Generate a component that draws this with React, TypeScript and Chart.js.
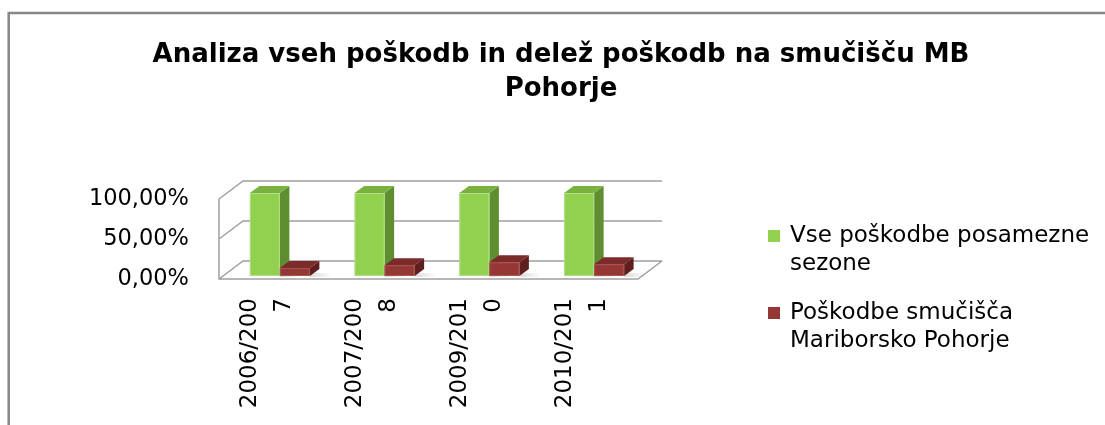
import React, { useEffect, useRef } from 'react';
import { Chart, registerables } from 'chart.js';

Chart.register(...registerables);

const TITLE_LINES = ['Analiza vseh poškodb in delež poškodb na smučišču MB', 'Pohorje'];
const CATEGORIES = ['2006/2007', '2007/2008', '2009/2010', '2010/2011'];
const SERIES_NAMES = ['Vse poškodbe posamezne sezone', 'Poškodbe smučišča Mariborsko Pohorje'];
const ALL_INJURIES = [100, 100, 100, 100];
const MB_POHORJE = [9.6, 13.0, 16.5, 14.2];
const Y_TICK_STEP = 50;

const W = 1105;
const H = 425;
const FONT = "'DejaVu Sans', Verdana, sans-serif";

const FACE_COLORS = [
  { front: '#92D050', top: '#79B23F', side: '#5E8E2F', edge: '#B2E08A', legend: '#92D050' },
  { front: '#953735', top: '#7A2B2A', side: '#5F1F1E', edge: '#A85452', legend: '#953735' },
];

// wall depth (oblique offset)
const DEPTH_X = 24;
const DEPTH_Y = -18;
// bar placement inside the depth
const BAR_OX = 8.5;
const BAR_OY = -3;
const BAR_K = 83 / 80;
const BAR_DX = 9.5;
const BAR_DY = -7;

export default function App() {
  const ref = useRef<HTMLCanvasElement>(null);

  useEffect(() => {
    const plugin = {
      id: 'excel3d',
      beforeDraw(chart: any) {
        const ctx = chart.ctx;
        ctx.save();
        ctx.fillStyle = '#ffffff';
        ctx.fillRect(0, 0, W, H);
        // frame
        ctx.strokeStyle = '#878787';
        ctx.lineWidth = 2.5;
        ctx.beginPath();
        ctx.moveTo(8.7, H + 5);
        ctx.lineTo(8.7, 13);
        ctx.lineTo(W + 5, 13);
        ctx.stroke();
        // title
        ctx.fillStyle = '#000000';
        ctx.font = `bold 26px ${FONT}`;
        ctx.textAlign = 'center';
        ctx.textBaseline = 'alphabetic';
        ctx.fillText(TITLE_LINES[0], 561, 62);
        ctx.fillText(TITLE_LINES[1], 561, 96);
        ctx.restore();
      },
      beforeDatasetsDraw(chart: any) {
        const ctx = chart.ctx;
        const area = chart.chartArea;
        const y = chart.scales.y;
        const L = area.left;
        const R = area.right;
        const y0 = y.getPixelForValue(0);
        const yMax = y.getPixelForValue(y.max);
        ctx.save();
        ctx.strokeStyle = '#A0A0A0';
        ctx.lineWidth = 1.5;
        ctx.beginPath();
        ctx.moveTo(L, yMax);
        ctx.lineTo(L, y0);
        ctx.lineTo(R, y0);
        ctx.lineTo(R + DEPTH_X, y0 + DEPTH_Y);
        for (let v = 0; v <= y.max; v += Y_TICK_STEP) {
          const p = y.getPixelForValue(v);
          ctx.moveTo(L, p);
          ctx.lineTo(L + DEPTH_X, p + DEPTH_Y);
          ctx.lineTo(R + DEPTH_X, p + DEPTH_Y);
        }
        ctx.stroke();

        // soft floor shadows
        chart.data.datasets.forEach((_: any, di: number) => {
          const meta = chart.getDatasetMeta(di);
          meta.data.forEach((el: any) => {
            const left = el.x - el.width / 2 + BAR_OX;
            const b = el.base + BAR_OY;
            const g = ctx.createLinearGradient(left + el.width, 0, left + el.width + 22, 0);
            g.addColorStop(0, 'rgba(150,150,150,0.35)');
            g.addColorStop(1, 'rgba(150,150,150,0)');
            ctx.fillStyle = g;
            ctx.fillRect(left + el.width, b - 3, 22, 4);
          });
        });

        // 3D bars
        chart.data.datasets.forEach((_: any, di: number) => {
          const meta = chart.getDatasetMeta(di);
          const c = FACE_COLORS[di];
          meta.data.forEach((el: any) => {
            const left = el.x - el.width / 2 + BAR_OX;
            const right = left + el.width;
            const bottom = el.base + BAR_OY;
            const top = bottom - (el.base - el.y) * BAR_K;
            ctx.fillStyle = c.side;
            ctx.beginPath();
            ctx.moveTo(right, top);
            ctx.lineTo(right + BAR_DX, top + BAR_DY);
            ctx.lineTo(right + BAR_DX, bottom + BAR_DY);
            ctx.lineTo(right, bottom);
            ctx.closePath();
            ctx.fill();
            ctx.fillStyle = c.top;
            ctx.beginPath();
            ctx.moveTo(left, top);
            ctx.lineTo(right, top);
            ctx.lineTo(right + BAR_DX, top + BAR_DY);
            ctx.lineTo(left + BAR_DX, top + BAR_DY);
            ctx.closePath();
            ctx.fill();
            ctx.fillStyle = c.front;
            ctx.fillRect(left, top, right - left, bottom - top);
            ctx.strokeStyle = c.edge;
            ctx.lineWidth = 1;
            ctx.strokeRect(left + 0.5, top + 0.5, right - left - 1, bottom - top - 1);
          });
        });
        ctx.restore();
        return false;
      },
      afterDraw(chart: any) {
        const ctx = chart.ctx;
        ctx.save();
        // category labels, rotated, two lines each
        const xs = chart.scales.x;
        ctx.font = `23px ${FONT}`;
        ctx.fillStyle = '#000000';
        ctx.textAlign = 'right';
        ctx.textBaseline = 'middle';
        CATEGORIES.forEach((cat, i) => {
          const px = xs.getPixelForTick(i);
          const parts = [cat.slice(0, 8), cat.slice(8)];
          parts.forEach((p, li) => {
            ctx.save();
            ctx.translate(px - 21 + li * 34, 298);
            ctx.rotate(-Math.PI / 2);
            ctx.fillText(p, 0, 0);
            ctx.restore();
          });
        });

        // legend
        ctx.font = `23px ${FONT}`;
        ctx.textAlign = 'left';
        ctx.textBaseline = 'middle';
        const textX = 790;
        const maxW = 310;
        let lineY = 236;
        chart.data.datasets.forEach((ds: any, di: number) => {
          const words = String(ds.label).split(' ');
          const lines: string[] = [];
          let cur = '';
          words.forEach((w) => {
            const test = cur ? cur + ' ' + w : w;
            if (ctx.measureText(test).width > maxW && cur) {
              lines.push(cur);
              cur = w;
            } else {
              cur = test;
            }
          });
          if (cur) lines.push(cur);
          ctx.fillStyle = FACE_COLORS[di].legend;
          ctx.fillRect(768, lineY - 6, 12, 12);
          ctx.fillStyle = '#000000';
          lines.forEach((ln, li) => {
            ctx.fillText(ln, textX, lineY + li * 28);
          });
          lineY += lines.length * 28 + 21;
        });
        ctx.restore();
      },
    };

    const chart = new Chart(ref.current as HTMLCanvasElement, {
      type: 'bar',
      data: {
        labels: CATEGORIES,
        datasets: [
          { label: SERIES_NAMES[0], data: ALL_INJURIES, backgroundColor: FACE_COLORS[0].front },
          { label: SERIES_NAMES[1], data: MB_POHORJE, backgroundColor: FACE_COLORS[1].front },
        ],
      },
      options: {
        animation: false,
        responsive: false,
        layout: { padding: { left: 0, top: 199, right: 467, bottom: 0 } },
        datasets: { bar: { categoryPercentage: 0.573, barPercentage: 1 } } as any,
        plugins: {
          legend: { display: false },
          title: { display: false },
          tooltip: { enabled: false },
        },
        scales: {
          x: {
            grid: { display: false, drawTicks: false },
            border: { display: false },
            ticks: { display: false },
            afterFit: (s: any) => {
              s.height = 146;
            },
          },
          y: {
            min: 0,
            max: 100,
            grid: { display: false, drawTicks: false },
            border: { display: false },
            ticks: {
              stepSize: Y_TICK_STEP,
              padding: 30,
              color: '#000000',
              font: { family: FONT, size: 22.5 },
              callback: (v: any) => Number(v).toFixed(2).replace('.', ',') + '%',
            },
            afterFit: (s: any) => {
              s.width = 219;
            },
          },
        },
      } as any,
      plugins: [plugin],
    });
    return () => chart.destroy();
  }, []);

  return (
    <div style={{ position: 'absolute', left: 0, top: 0, width: W, height: H }}>
      <canvas ref={ref} width={W} height={H} style={{ display: 'block', width: W, height: H }} />
    </div>
  );
}
